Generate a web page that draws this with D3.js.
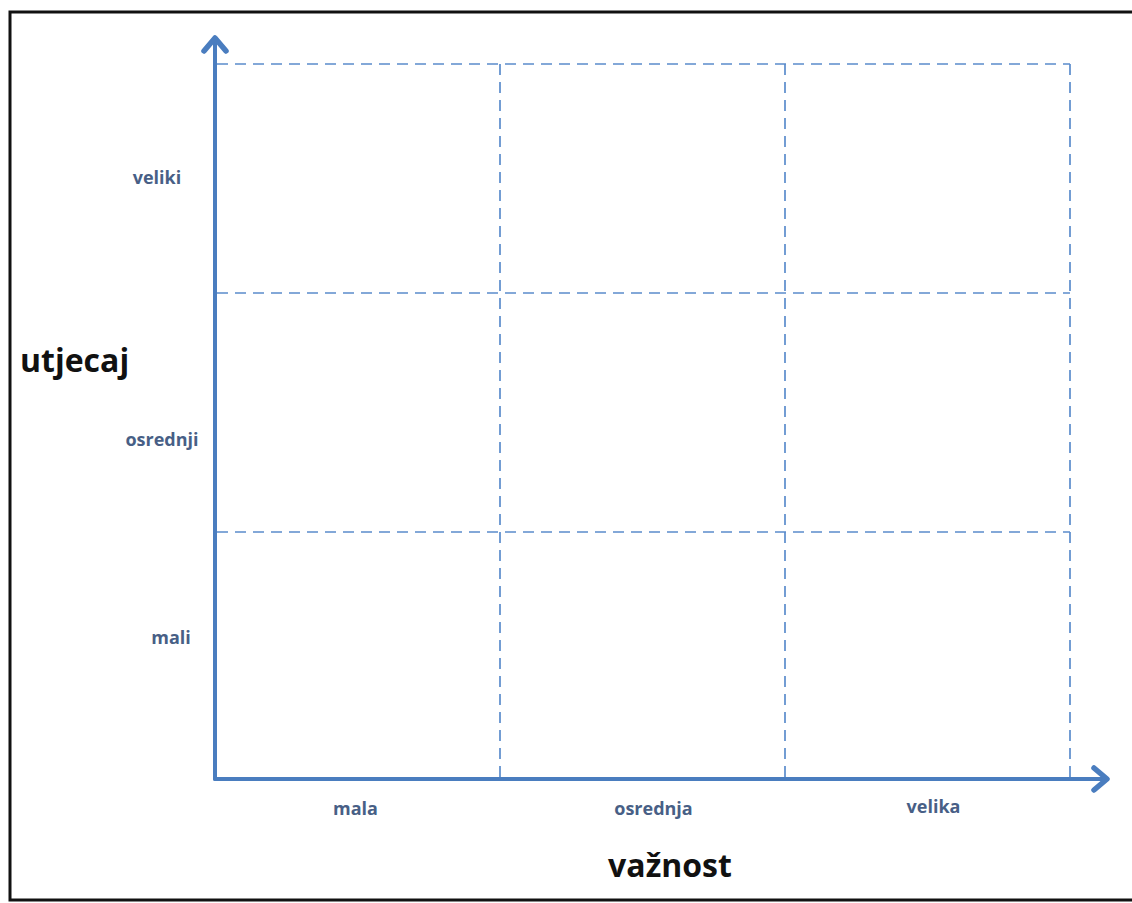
<!DOCTYPE html>
<html>
<head>
<meta charset="utf-8">
<script src="https://cdn.jsdelivr.net/npm/d3@7"></script>
<style>
  html, body { margin: 0; padding: 0; background: #fff; }
  svg { display: block; }
</style>
</head>
<body>
<svg id="chart" width="1132" height="903"></svg>
<script>
// ---- data ----
const xCategories = ["mala", "osrednja", "velika"];      // važnost
const yCategories = ["mali", "osrednji", "veliki"];      // utjecaj
const xTitle = "važnost";
const yTitle = "utjecaj";
const gridLevels = [1, 2, 3];   // category boundaries

// ---- layout ----
const svg = d3.select("#chart");
const axisColor = "#4a7dbf";
const gridColor = "#5b8ccc";
const labelColor = "#485f86";

const x = d3.scaleLinear().domain([0, 3]).range([215, 1070]);
const y = d3.scaleLinear().domain([0, 1, 2, 3]).range([779, 532, 293, 64]);

// frame
svg.append("rect")
  .attr("x", 10).attr("y", 12).attr("width", 1140).attr("height", 888)
  .attr("fill", "none").attr("stroke", "#111").attr("stroke-width", 3);

// grid (dashed)
const grid = svg.append("g")
  .attr("stroke", gridColor).attr("stroke-width", 1.7)
  .attr("stroke-dasharray", "11,7").attr("fill", "none");
grid.selectAll("line.h").data(gridLevels).join("line")
  .attr("class", "h")
  .attr("x1", x(0) + 2).attr("x2", x(3))
  .attr("y1", d => y(d)).attr("y2", d => y(d));
grid.selectAll("line.v").data(gridLevels).join("line")
  .attr("class", "v")
  .attr("y1", y(3)).attr("y2", y(0) - 2)
  .attr("x1", d => x(d)).attr("x2", d => x(d));

// axes with arrows
const ax = svg.append("g").attr("stroke", axisColor).attr("fill", "none")
  .attr("stroke-linecap", "round").attr("stroke-linejoin", "round");
// y axis
ax.append("line").attr("x1", x(0)).attr("x2", x(0))
  .attr("y1", y(0)).attr("y2", 40).attr("stroke-width", 4);
ax.append("path").attr("d", `M${x(0) - 11},${51} L${x(0)},${38} L${x(0) + 11},${51}`)
  .attr("stroke-width", 5.5);
// x axis
ax.append("line").attr("x1", x(0)).attr("x2", 1105)
  .attr("y1", y(0)).attr("y2", y(0)).attr("stroke-width", 4);
ax.append("path").attr("d", `M${1094},${y(0) - 11} L${1107},${y(0)} L${1094},${y(0) + 11}`)
  .attr("stroke-width", 5.5);

// category labels
const font = "'Open Sans', 'DejaVu Sans', sans-serif";
const xLabelAdj = [{dx: -2, y: 815}, {dx: 11, y: 815}, {dx: 6, y: 813}];
svg.append("g").selectAll("text").data(xCategories).join("text")
  .attr("x", (d, i) => x(i + 0.5) + xLabelAdj[i].dx)
  .attr("y", (d, i) => xLabelAdj[i].y)
  .attr("text-anchor", "middle")
  .attr("font-family", font).attr("font-weight", 700).attr("font-size", 18)
  .attr("fill", labelColor)
  .text(d => d);

const yLabelAdj = [{cx: 171, dy: -12}, {cx: 162, dy: 33}, {cx: 157, dy: 5}];
svg.append("g").selectAll("text").data(yCategories).join("text")
  .attr("x", (d, i) => yLabelAdj[i].cx)
  .attr("y", (d, i) => y(i + 0.5) + yLabelAdj[i].dy)
  .attr("text-anchor", "middle")
  .attr("font-family", font).attr("font-weight", 700).attr("font-size", 18)
  .attr("fill", labelColor)
  .text(d => d);

// axis titles
svg.append("text").attr("x", 20).attr("y", 372)
  .attr("font-family", font).attr("font-weight", 700).attr("font-size", 32)
  .attr("fill", "#111").text(yTitle);
svg.append("text").attr("x", 670).attr("y", 877).attr("text-anchor", "middle")
  .attr("font-family", font).attr("font-weight", 700).attr("font-size", 32)
  .attr("fill", "#111").text(xTitle);
</script>
</body>
</html>
